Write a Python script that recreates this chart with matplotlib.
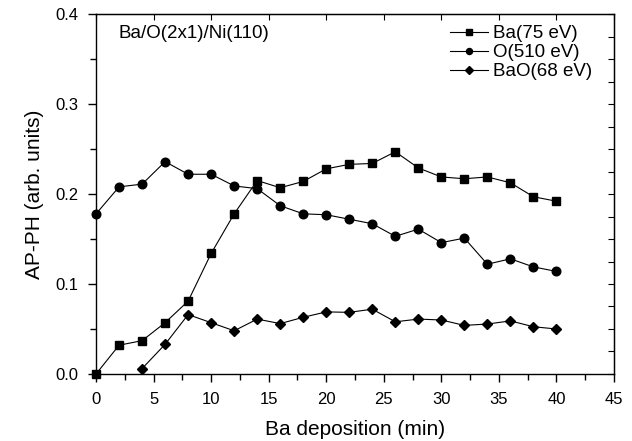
import matplotlib
matplotlib.use("Agg")
import matplotlib.pyplot as plt
from matplotlib.ticker import MultipleLocator, FormatStrFormatter

plt.rcParams['font.family'] = ['Liberation Sans', 'DejaVu Sans']

# deposition time (min)
t_ba = [0, 2, 4, 6, 8, 10, 12, 14, 16, 18, 20, 22, 24, 26, 28, 30, 32, 34, 36, 38, 40]
ba = [0.0, 0.032, 0.037, 0.057, 0.081, 0.134, 0.178, 0.215, 0.207, 0.214, 0.228,
      0.233, 0.234, 0.247, 0.229, 0.219, 0.217, 0.219, 0.2125, 0.197, 0.192]

t_o = t_ba
o = [0.178, 0.208, 0.211, 0.236, 0.222, 0.222, 0.209, 0.206, 0.187, 0.178, 0.177,
     0.172, 0.167, 0.153, 0.161, 0.146, 0.151, 0.122, 0.128, 0.119, 0.114]

t_bao = [4, 6, 8, 10, 12, 14, 16, 18, 20, 22, 24, 26, 28, 30, 32, 34, 36, 38, 40]
bao = [0.006, 0.033, 0.066, 0.057, 0.048, 0.061, 0.056, 0.063, 0.069, 0.0685,
       0.072, 0.058, 0.061, 0.060, 0.054, 0.0555, 0.059, 0.0525, 0.050]

fig = plt.figure(figsize=(6.32, 4.41), dpi=100)
ax = fig.add_axes([0.152, 0.152, 0.8195, 0.816])

ax.plot(t_ba, ba, '-s', color='black', lw=0.8, ms=5.5, clip_on=False, label='Ba(75 eV)')
ax.plot(t_o, o, '-o', color='black', lw=0.8, ms=6.2, clip_on=False, label='O(510 eV)')
ax.plot(t_bao, bao, '-D', color='black', lw=0.8, ms=5.3, clip_on=False, label='BaO(68 eV)')

ax.set_xlim(0, 45)
ax.set_ylim(0, 0.4)
ax.xaxis.set_major_locator(MultipleLocator(5))
ax.xaxis.set_minor_locator(MultipleLocator(2.5))
ax.yaxis.set_major_locator(MultipleLocator(0.1))
ax.yaxis.set_minor_locator(MultipleLocator(0.05))
ax.yaxis.set_major_formatter(FormatStrFormatter('%.1f'))
ax.tick_params(which='both', direction='out', labelsize=12, width=1)
ax.tick_params(which='major', length=6, pad=7)
ax.tick_params(which='minor', length=4)
for sp in ax.spines.values():
    sp.set_linewidth(1)

# inward ticks on top and right
axt = ax.secondary_xaxis('top')
axt.xaxis.set_major_locator(MultipleLocator(5))
axt.tick_params(direction='in', length=4, labeltop=False)
axr = ax.secondary_yaxis('right')
axr.yaxis.set_major_locator(MultipleLocator(0.025))
axr.tick_params(direction='in', length=4, labelright=False)

ax.set_xlabel('Ba deposition (min)', fontsize=15, labelpad=9)
ax.set_ylabel('AP-PH (arb. units)', fontsize=15, labelpad=8)
ax.text(0.043, 0.97, 'Ba/O(2x1)/Ni(110)', transform=ax.transAxes, fontsize=13.5, va='top')

ax.legend(loc='upper right', bbox_to_anchor=(0.98, 1.0), frameon=False, fontsize=13.5,
          markerscale=0.7, handlelength=2.0, handletextpad=0.3, labelspacing=0.1,
          borderaxespad=0.2)

fig.savefig('out.png', dpi=100)
